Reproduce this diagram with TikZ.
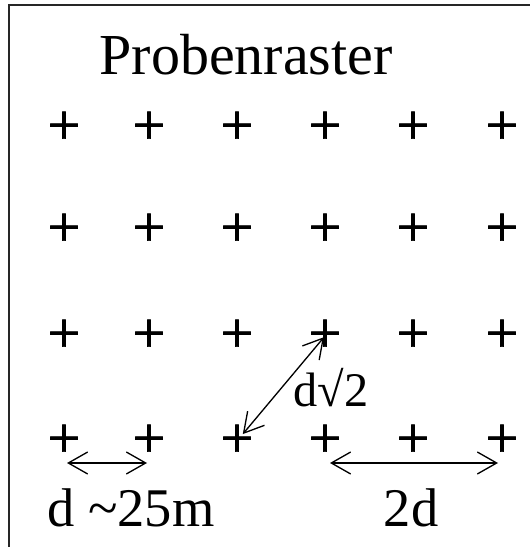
\documentclass[tikz,border=0pt]{standalone}
\usepackage{fontspec}
\setmainfont{Liberation Serif}
\newfontfamily\plusfont[FakeBold=1.2]{Liberation Serif}
\usetikzlibrary{arrows.meta}

\begin{document}
\begin{tikzpicture}[
    >={Straight Barb[length=11pt, width=12.5pt]},
    dim/.style={<->, line width=0.75pt},
    pt/.style={font=\fontsize{33}{40}\selectfont\plusfont, inner sep=0pt},
    lbl/.style={font=\fontsize{31}{36}\selectfont, anchor=base, inner sep=0pt}
  ]
  \useasboundingbox (0,0) rectangle (10.6,10.94);

  % Rahmen
  \draw[line width=1.2pt, black!85] (0.18,0) -- (0.18,10.84) -- (10.6,10.84);

  % Titel
  \node[anchor=base, inner sep=0pt, font=\fontsize{33}{40}\selectfont] (title) at (4.92,9.44) {Probenraster};

  % Raster
  \foreach \x [count=\c] in {1.28, 2.98, 4.74, 6.50, 8.26, 10.04} {
    \foreach \y [count=\r] in {8.38, 6.34, 4.22, 2.12} {
      \node[pt] (p\c\r) at (\x,\y) {+};
    }
  }

  % Abstaende
  \draw[dim, shorten <=0.06cm, shorten >=0.04cm] ([yshift=-0.44cm]p14.center) -- ([yshift=-0.44cm]p24.center);
  \draw[dim, shorten <=0.1cm, shorten >=0.08cm] ([yshift=-0.44cm]p44.center) -- ([yshift=-0.44cm]p64.center);
  \draw[dim, shorten <=0.18cm, shorten >=0.03cm] (p34.center) -- (p43.center);

  % Beschriftung
  \node[lbl] (ldist) at (2.62,0.40) {d \textasciitilde 25m};
  \node[lbl] (ltwo)  at (8.22,0.40) {2d};
  \node[lbl, font=\fontsize{27.5}{32}\selectfont] (ldiag) at (6.62,2.80) {d√2};

\end{tikzpicture}
\end{document}
